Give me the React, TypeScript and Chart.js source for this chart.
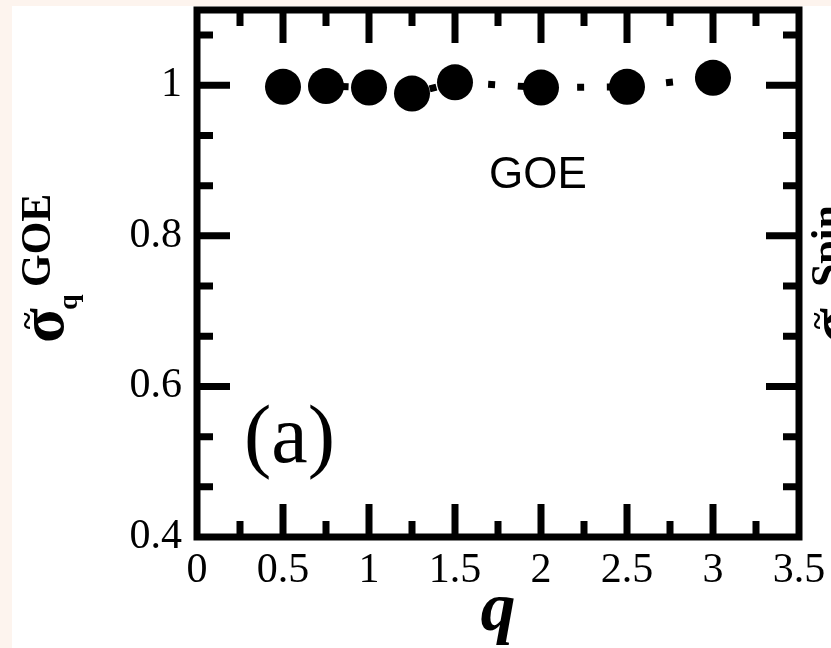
import React, { useEffect, useRef } from "react";
import { Chart, registerables } from "chart.js";

Chart.register(...registerables);

// ---- data ----
const qValues = [0.5, 0.75, 1, 1.25, 1.5, 2, 2.5, 3];
const sigmaValues = [0.998, 0.999, 0.997, 0.989, 1.004, 0.997, 0.998, 1.01];

// ---- axes ----
const xRange = [0, 3.5];
const yRange = [0.4, 1.1];
const xMajorTicks = [0, 0.5, 1, 1.5, 2, 2.5, 3, 3.5];
const xMinorTicks = [0.25, 0.75, 1.25, 1.75, 2.25, 2.75, 3.25];
const yMajorTicks = [0.4, 0.6, 0.8, 1.0];
const yMinorTicks = [0.4667, 0.5333, 0.6667, 0.7333, 0.8667, 0.9333, 1.0667];

const xTitle = "q";
const panelLabel = "(a)";
const ensembleLabel = "GOE";

const SERIF = '"Liberation Serif", "Times New Roman", serif';
const SANS = '"Liberation Sans", Arial, sans-serif';

const framePlugin = {
  id: "frameAndText",
  beforeDraw(chart: any) {
    const { ctx, width, height } = chart;
    ctx.save();
    ctx.fillStyle = "#fdf4ee";
    ctx.fillRect(0, 0, width, height);
    ctx.fillStyle = "#ffffff";
    ctx.fillRect(12, 6, width - 12, height - 6);
    ctx.restore();
  },
  afterDatasetsDraw(chart: any) {
    const { ctx, chartArea } = chart;
    const { left, right, top, bottom } = chartArea;
    const xs = chart.scales.x;
    const ys = chart.scales.y;
    ctx.save();
    ctx.strokeStyle = "#000";
    ctx.lineWidth = 7;
    ctx.lineCap = "butt";
    ctx.lineJoin = "miter";
    ctx.setLineDash([]);
    ctx.strokeRect(left, top, right - left, bottom - top);
    ctx.beginPath();
    const xTick = (v: number, len: number) => {
      const px = xs.getPixelForValue(v);
      if (px <= left + 2 || px >= right - 2) return;
      ctx.moveTo(px, bottom);
      ctx.lineTo(px, bottom - len);
      ctx.moveTo(px, top);
      ctx.lineTo(px, top + len);
    };
    const yTick = (v: number, len: number) => {
      const py = ys.getPixelForValue(v);
      if (py <= top + 2 || py >= bottom - 2) return;
      ctx.moveTo(left, py);
      ctx.lineTo(left + len, py);
      ctx.moveTo(right, py);
      ctx.lineTo(right - len, py);
    };
    xMajorTicks.forEach((v) => xTick(v, 33));
    xMinorTicks.forEach((v) => xTick(v, 16));
    yMajorTicks.forEach((v) => yTick(v, 33));
    yMinorTicks.forEach((v) => yTick(v, 16));
    ctx.stroke();
    ctx.restore();
  },
  afterDraw(chart: any) {
    const { ctx } = chart;
    ctx.save();
    ctx.fillStyle = "#000";
    // GOE annotation
    ctx.textAlign = "left";
    ctx.textBaseline = "alphabetic";
    ctx.font = `44px ${SANS}`;
    ctx.fillText(ensembleLabel, 489, 188);
    // panel label
    ctx.font = `82px ${SERIF}`;
    ctx.fillText(panelLabel, 244, 462);

    const drawSigmaLabel = (x0: number, y0: number, sup: string) => {
      ctx.save();
      ctx.translate(x0, y0);
      ctx.rotate(-Math.PI / 2);
      ctx.textAlign = "left";
      ctx.textBaseline = "alphabetic";
      ctx.font = `bold 64px ${SERIF}`;
      ctx.fillText("σ", 0, 0);
      ctx.textAlign = "center";
      ctx.font = `bold 32px ${SERIF}`;
      ctx.fillText("~", 22, -26);
      ctx.textAlign = "left";
      ctx.font = `bold 28px ${SERIF}`;
      ctx.fillText("q", 33, 14);
      ctx.font = `bold 42px ${SERIF}`;
      ctx.fillText(sup, 56, -13);
      ctx.restore();
    };
    drawSigmaLabel(63, 343, "GOE");
    drawSigmaLabel(853, 343, "Spin");
    ctx.restore();
  },
};

export default function App() {
  const canvasRef = useRef<HTMLCanvasElement>(null);

  useEffect(() => {
    document.body.style.margin = "0";
    const canvas = canvasRef.current;
    if (!canvas) return;
    const chart = new Chart(canvas, {
      type: "line",
      data: {
        datasets: [
          {
            data: qValues.map((q, i) => ({ x: q, y: sigmaValues[i] })),
            borderColor: "#000",
            backgroundColor: "#000",
            borderWidth: 7,
            borderDash: [7, 22.7],
            borderDashOffset: 0.8,
            borderCapStyle: "butt",
            pointRadius: 18,
            pointHoverRadius: 18,
            pointBackgroundColor: "#000",
            pointBorderColor: "#000",
            pointBorderWidth: 0,
            tension: 0,
            fill: false,
          },
        ],
      },
      options: {
        animation: false,
        responsive: false,
        maintainAspectRatio: false,
        events: [],
        layout: { autoPadding: false, padding: { left: 0, top: 10, right: 32, bottom: 0 } },
        plugins: {
          legend: { display: false },
          tooltip: { enabled: false },
        },
        scales: {
          x: {
            type: "linear",
            min: xRange[0],
            max: xRange[1],
            grid: { display: false, drawTicks: false },
            border: { display: false },
            ticks: {
              color: "#000",
              padding: 9,
              autoSkip: false,
              maxRotation: 0,
              font: { family: SERIF, size: 42 },
              callback: (v: any) => String(Number(v)),
            },
            afterBuildTicks: (s: any) => {
              s.ticks = xMajorTicks.map((v) => ({ value: v }));
            },
            afterFit: (s: any) => {
              s.height = 111;
              s.paddingLeft = 0;
              s.paddingRight = 0;
              s.paddingTop = 0;
              s.paddingBottom = 0;
            },
            title: {
              display: true,
              text: xTitle,
              color: "#000",
              padding: { top: 0, bottom: 1 },
              font: { family: SERIF, size: 70, weight: "bold", style: "italic", lineHeight: 1 },
            },
          },
          y: {
            type: "linear",
            min: yRange[0],
            max: yRange[1],
            grid: { display: false, drawTicks: false },
            border: { display: false },
            ticks: {
              color: "#000",
              padding: 15,
              autoSkip: false,
              font: { family: SERIF, size: 42 },
              callback: (v: any) => String(Number(v)),
            },
            afterBuildTicks: (s: any) => {
              s.ticks = yMajorTicks.map((v) => ({ value: v }));
            },
            afterFit: (s: any) => {
              s.width = 197;
              s.paddingLeft = 0;
              s.paddingRight = 0;
              s.paddingTop = 0;
              s.paddingBottom = 0;
            },
          },
        },
      },
      plugins: [framePlugin],
    } as any);
    return () => chart.destroy();
  }, []);

  return (
    <div style={{ position: "absolute", left: 0, top: 0, width: 831, height: 648 }}>
      <canvas ref={canvasRef} width={831} height={648} style={{ display: "block" }} />
    </div>
  );
}
